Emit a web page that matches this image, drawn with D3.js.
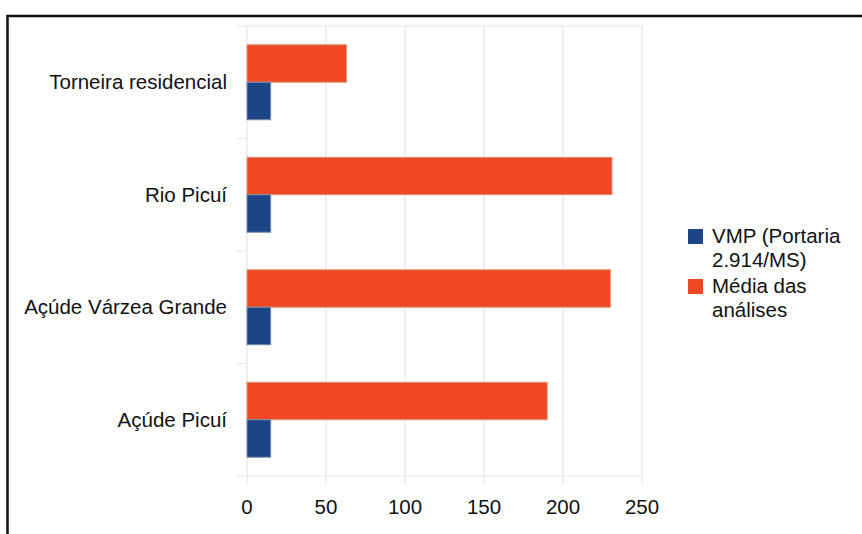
<!DOCTYPE html>
<html lang="pt">
<head>
    <meta charset="UTF-8">
    <title>VMP x Média das análises</title>
    <script src="https://d3js.org/d3.v7.min.js"></script>
    <style>
        body { margin: 0; background: #fff; }
        text {
            font-family: 'Liberation Sans', Arial, sans-serif;
            fill: #111;
        }
        .grid line { stroke: #e6e6e6; stroke-width: 1.2; }
        .bar { stroke-width: 1; }
    </style>
</head>
<body>
<script>
    const width  = 862;
    const height = 534;

    // data
    const categories = ["Torneira residencial", "Rio Picuí", "Açúde Várzea Grande", "Açúde Picuí"];
    const seriesKeys = ["media", "vmp"];   // top to bottom inside each group
    const vmp   = [15, 15, 15, 15];
    const media = [63, 231, 230, 190];
    const xTicks = [0, 50, 100, 150, 200, 250];
    const legendItems = [
        {key: "vmp",   lines: ["VMP (Portaria", "2.914/MS)"]},
        {key: "media", lines: ["Média das", "análises"]}
    ];

    const colors = {vmp: "#1c4587", media: "#ef4923"};
    const strokes = {vmp: "#7d8cab", media: "#d99a80"};
    const fontSize = "20.5px";

    const rows = categories.map((c, i) => ({cat: c, vmp: vmp[i], media: media[i]}));

    const svg = d3.select("body").append("svg")
        .attr("width", width).attr("height", height);

    // frame around the picture (runs off right/bottom)
    svg.append("rect")
        .attr("x", 7.5).attr("y", 16)
        .attr("width", 900).attr("height", 600)
        .attr("fill", "none").attr("stroke", "#111").attr("stroke-width", 2.5);

    const x = d3.scaleLinear().domain([0, 250]).range([247, 642]);
    const y = d3.scaleBand().domain(categories).range([26, 476]);
    const ySub = d3.scaleBand().domain(seriesKeys)
        .range([0, y.step()]).paddingOuter(0.5);

    // vertical grid lines
    const grid = svg.append("g").attr("class", "grid");
    grid.selectAll(".v").data(xTicks).join("line").attr("class", "v")
        .attr("x1", d => x(d)).attr("x2", d => x(d))
        .attr("y1", 26).attr("y2", 484);

    // band boundaries (top line, ticks at left, bottom axis line)
    const bounds = categories.map(c => y(c)).concat([476]);
    grid.selectAll(".h").data(bounds).join("line").attr("class", "h")
        .attr("x1", 237)
        .attr("x2", (d, i) => (i === 0 || i === bounds.length - 1) ? x(250) : x(0))
        .attr("y1", d => d).attr("y2", d => d);

    // bars
    const g = svg.selectAll(".group").data(rows).join("g")
        .attr("class", "group")
        .attr("transform", d => `translate(0,${y(d.cat)})`);

    g.selectAll("rect").data(d => seriesKeys.map(k => ({key: k, value: d[k]})))
        .join("rect").attr("class", "bar")
        .attr("x", x(0))
        .attr("y", d => ySub(d.key))
        .attr("width", d => x(d.value) - x(0))
        .attr("height", ySub.bandwidth())
        .attr("fill", d => colors[d.key])
        .attr("stroke", d => strokes[d.key]);

    // category labels
    svg.selectAll(".cat").data(categories).join("text").attr("class", "cat")
        .attr("x", 227)
        .attr("y", d => y(d) + y.bandwidth() / 2)
        .attr("dy", "0.35em")
        .attr("text-anchor", "end")
        .style("font-size", fontSize)
        .text(d => d);

    // x tick labels
    svg.selectAll(".tick").data(xTicks).join("text").attr("class", "tick")
        .attr("x", d => x(d))
        .attr("y", 514)
        .attr("text-anchor", "middle")
        .style("font-size", fontSize)
        .text(d => d);

    // legend
    const leg = svg.selectAll(".leg").data(legendItems).join("g")
        .attr("class", "leg")
        .attr("transform", (d, i) => `translate(688,${243 + i * 50})`);

    leg.append("rect")
        .attr("x", 0).attr("y", -14)
        .attr("width", 15).attr("height", 15)
        .attr("fill", d => colors[d.key]);

    leg.append("text")
        .attr("x", 24).attr("y", 0)
        .style("font-size", fontSize)
        .selectAll("tspan").data(d => d.lines).join("tspan")
        .attr("x", 24)
        .attr("dy", (d, i) => i === 0 ? 0 : 24)
        .text(d => d);
</script>
</body>
</html>
